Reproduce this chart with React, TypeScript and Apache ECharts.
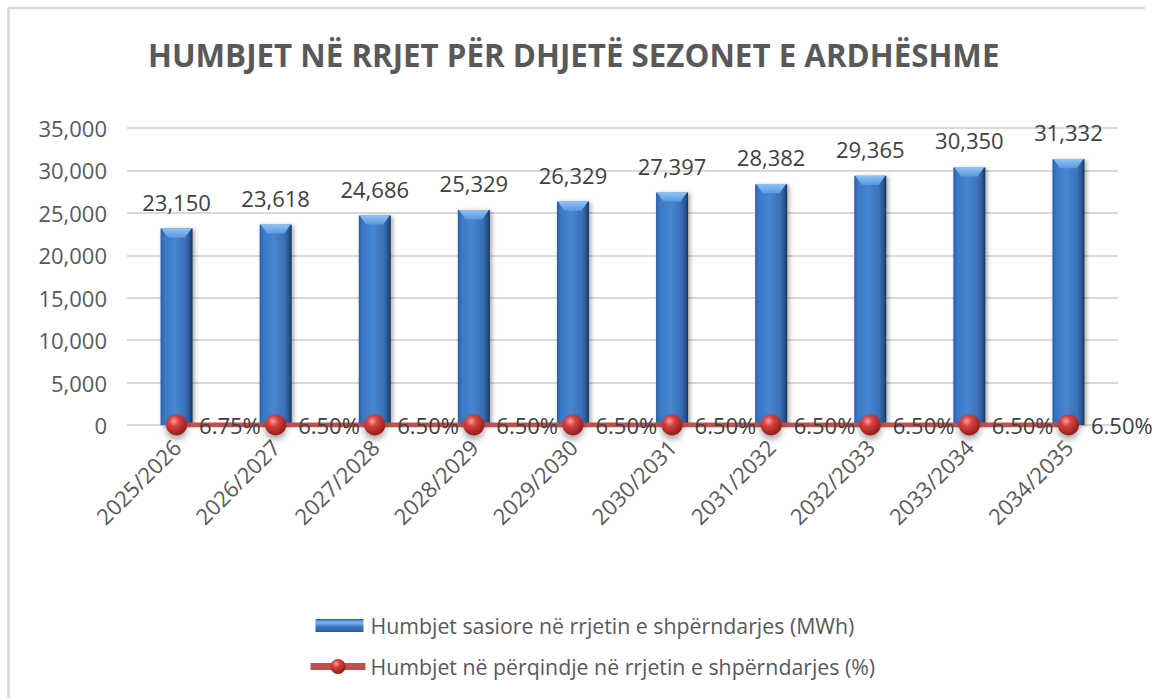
import React, { useEffect, useRef } from "react";
import * as echarts from "echarts";

const categories = [
  "2025/2026", "2026/2027", "2027/2028", "2028/2029", "2029/2030",
  "2030/2031", "2031/2032", "2032/2033", "2033/2034", "2034/2035",
];
const lossesMWh = [23150, 23618, 24686, 25329, 26329, 27397, 28382, 29365, 30350, 31332];
const lossesPct = [6.75, 6.5, 6.5, 6.5, 6.5, 6.5, 6.5, 6.5, 6.5, 6.5];
const yTicks = { min: 0, max: 35000, interval: 5000 };

const barName = "Humbjet sasiore në rrjetin e shpërndarjes (MWh)";
const lineName = "Humbjet në përqindje në rrjetin e shpërndarjes (%)";
const titleText = "HUMBJET NË RRJET PËR DHJETË SEZONET E ARDHËSHME";

const FONT = "'Open Sans', 'DejaVu Sans', sans-serif";

export default function App() {
  const ref = useRef<HTMLDivElement>(null);
  useEffect(() => {
    if (!ref.current) return;
    const chart = echarts.init(ref.current, null, { renderer: "svg" });
    const barGrad = new echarts.graphic.LinearGradient(0, 0, 1, 0, [
      { offset: 0, color: "#2c5fa8" },
      { offset: 0.12, color: "#3a78c5" },
      { offset: 0.45, color: "#4686d1" },
      { offset: 0.78, color: "#3a70b6" },
      { offset: 0.92, color: "#28548d" },
      { offset: 1, color: "#15305a" },
    ]);
    const legendBarGrad = new echarts.graphic.LinearGradient(0, 0, 0, 1, [
      { offset: 0, color: "#2a5fa5" },
      { offset: 0.2, color: "#7fb6f0" },
      { offset: 0.45, color: "#3f7fcb" },
      { offset: 1, color: "#1f4a85" },
    ]);
    const capGrad = new echarts.graphic.LinearGradient(0, 0, 0, 1, [
      { offset: 0, color: "#8fc3f7" },
      { offset: 1, color: "#5a98e0" },
    ]);
    const markerGrad = new echarts.graphic.RadialGradient(0.38, 0.32, 0.7, [
      { offset: 0, color: "#f7a0a0" },
      { offset: 0.35, color: "#d9403d" },
      { offset: 1, color: "#8e1c1a" },
    ]);
    chart.setOption({
      animation: false,
      textStyle: { fontFamily: FONT },
      title: {
        text: titleText,
        left: 143,
        top: 34,
        textStyle: { fontFamily: FONT, fontSize: 31.3, fontWeight: "bold", color: "#595959" },
      },
      grid: { left: 127, right: 37, top: 128, bottom: 273, containLabel: false },
      legend: {
        orient: "vertical",
        left: 302,
        top: 610,
        itemGap: 20,
        itemWidth: 55,
        itemHeight: 19,
        data: [
          {
            name: barName,
            icon: "path://M0,0 M5,3 L53,3 L53,16 L5,16 Z M55,19",
            itemStyle: { color: legendBarGrad },
          },
          {
            name: lineName,
            lineStyle: { width: 7, color: "#c0504d" },
          },
        ],
        textStyle: { fontFamily: FONT, fontSize: 21.3, color: "#595959" },
      },
      xAxis: {
        type: "category",
        data: categories,
        axisLine: { show: false },
        axisTick: { show: false },
        axisLabel: { rotate: 45, margin: 18, fontSize: 22, color: "#595959", fontFamily: FONT, interval: 0 },
      },
      yAxis: {
        type: "value",
        min: yTicks.min,
        max: yTicks.max,
        interval: yTicks.interval,
        axisLine: { show: false },
        axisTick: { show: false },
        axisLabel: {
          margin: 20,
          fontSize: 22,
          color: "#595959",
          fontFamily: FONT,
          formatter: (v: number) => v.toLocaleString("en-US"),
        },
        splitLine: { lineStyle: { color: "#d9d9d9", width: 2 } },
      },
      series: [
        {
          name: barName,
          type: "bar",
          data: lossesMWh,
          barWidth: 32,
          barGap: "-100%",
          itemStyle: {
            color: barGrad,
            shadowBlur: 4,
            shadowOffsetX: 2,
            shadowOffsetY: 1,
            shadowColor: "rgba(0,0,0,0.35)",
          },
          label: {
            show: true,
            position: "top",
            distance: 16,
            fontSize: 22,
            color: "#404040",
            fontFamily: FONT,
            formatter: (p: any) => Number(p.value).toLocaleString("en-US"),
          },
          z: 2,
        },
        {
          type: "pictorialBar",
          data: lossesMWh,
          barWidth: 32,
          barGap: "-100%",
          symbol: "path://M0,0 L32,0 L25,8 L7,8 Z",
          symbolSize: [30, 9],
          symbolPosition: "end",
          symbolOffset: [0, 0],
          itemStyle: { color: capGrad },
          silent: true,
          z: 3,
        },
        {
          name: lineName,
          type: "line",
          data: lossesPct,
          symbol: "circle",
          symbolSize: 21,
          lineStyle: { color: "#c0504d", width: 5 },
          itemStyle: {
            color: markerGrad,
            shadowBlur: 6,
            shadowOffsetY: 4,
            shadowColor: "rgba(0,0,0,0.35)",
          },
          label: {
            show: true,
            position: "right",
            distance: 12,
            fontSize: 22,
            color: "#404040",
            fontFamily: FONT,
            formatter: (p: any) => Number(p.value).toFixed(2) + "%",
          },
          z: 5,
        },
      ],
      graphic: [
        { type: "line", shape: { x1: 8, y1: 8, x2: 1145, y2: 8 }, style: { stroke: "#d9d9d9", lineWidth: 2.5 } },
        { type: "line", shape: { x1: 8.5, y1: 8, x2: 8.5, y2: 698 }, style: { stroke: "#d9d9d9", lineWidth: 2.5 } },
      ],
    });
    return () => chart.dispose();
  }, []);
  return (
    <div
      ref={ref}
      style={{ position: "absolute", left: 0, top: 0, width: 1155, height: 698, background: "#fff" }}
    />
  );
}
